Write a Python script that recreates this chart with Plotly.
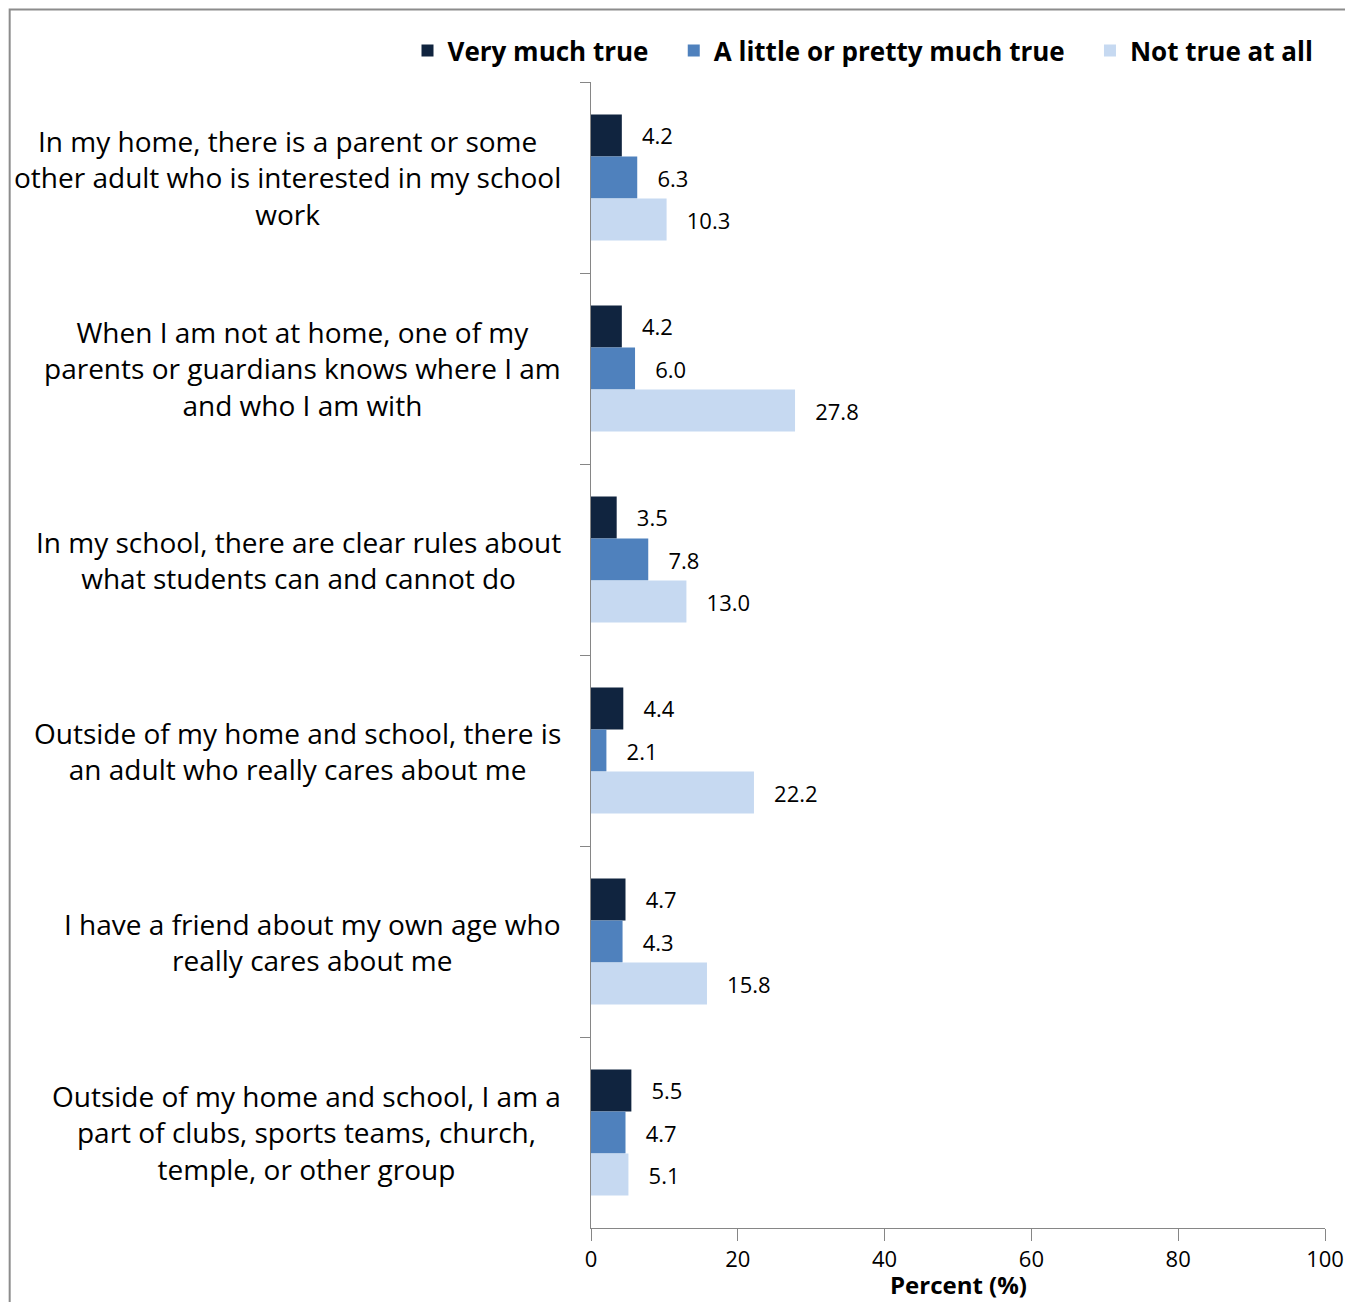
import plotly.graph_objects as go

categories = [
    "In my home, there is a parent or some<br>other adult who is interested in my school<br>work",
    "When I am not at home, one of my<br>parents or guardians knows where I am<br>and who I am with",
    "In my school, there are clear rules about<br>what students can and cannot do",
    "Outside of my home and school, there is<br>an adult who really cares about me",
    "I have a friend about my own age who<br>really cares about me",
    "Outside of my home and school, I am a<br>part of clubs, sports teams, church,<br>temple, or other group",
]
very_much = [4.2, 4.2, 3.5, 4.4, 4.7, 5.5]
a_little = [6.3, 6.0, 7.8, 2.1, 4.3, 4.7]
not_true = [10.3, 27.8, 13.0, 22.2, 15.8, 5.1]

series = [
    ("Very much true", very_much, "#10243F"),
    ("A little or pretty much true", a_little, "#4F81BD"),
    ("Not true at all", not_true, "#C6D9F1"),
]

FONT = "Open Sans"
PAD = "\u00a0" * 3  # extra room between legend entries

fig = go.Figure()
for i, (name, vals, color) in enumerate(series):
    fig.add_trace(go.Bar(
        y=categories, x=vals, orientation="h",
        name=name + (PAD if i < len(series) - 1 else ""),
        marker=dict(color=color, line=dict(width=0)),
        text=[f"{v:.1f}" for v in vals],
        texttemplate="   %{text}",
        textposition="outside",
        textfont=dict(family=FONT, size=22, color="#000000"),
        cliponaxis=False,
    ))

# category labels, centered lines, left of the axis
for cat in categories:
    fig.add_annotation(
        x=0, y=cat, xref="x", yref="y", text=cat, showarrow=False,
        xanchor="right", yanchor="middle", align="center", xshift=-28,
        font=dict(family=FONT, size=28, color="#000000"),
    )

fig.add_annotation(
    x=0.5, y=-0.033, xref="paper", yref="paper", text="<b>Percent (%)</b>",
    showarrow=False, xanchor="center", yanchor="top",
    font=dict(family=FONT, size=24, color="#000000"),
)

# outer chart border
fig.add_shape(
    type="rect", xref="paper", yref="paper",
    x0=-0.792, x1=1.08, y0=-0.1, y1=1.0633,
    line=dict(color="#8C8C8C", width=2), fillcolor="rgba(0,0,0,0)",
)

fig.update_layout(
    width=1345, height=1294,
    barmode="group", bargap=0.34, bargroupgap=0,
    plot_bgcolor="white", paper_bgcolor="white",
    margin=dict(l=583, r=28, t=74, b=74, autoexpand=False),
    font=dict(family=FONT, color="#000000"),
    legend=dict(
        orientation="h", x=-0.25, xanchor="left",
        y=1.048, yanchor="top",
        font=dict(family=FONT, size=26, color="#000000", weight="bold"),
        traceorder="normal", itemwidth=30,
    ),
    xaxis=dict(
        range=[0, 100], dtick=20, ticks="outside", ticklen=12,
        tickcolor="#868686", showline=True, linecolor="#868686", linewidth=1,
        showgrid=False, zeroline=False,
        tickfont=dict(family=FONT, size=22, color="#000000"),
    ),
    yaxis=dict(
        autorange="reversed", showticklabels=False, ticks="outside",
        tickson="boundaries", ticklen=10, tickcolor="#868686",
        showline=True, linecolor="#868686", linewidth=1, showgrid=False,
    ),
)

fig.write_html("out.html")
